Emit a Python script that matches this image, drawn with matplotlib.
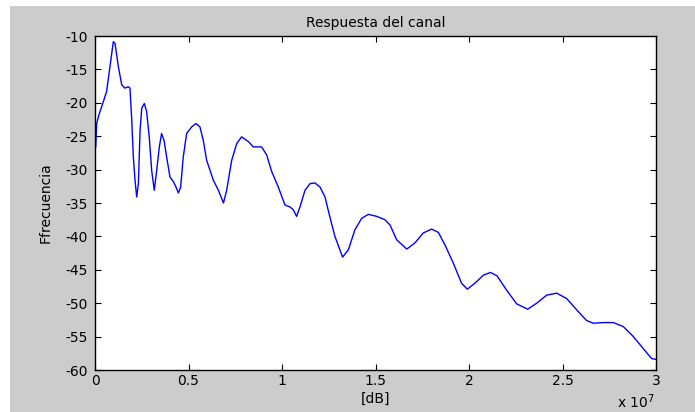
import matplotlib
matplotlib.use("Agg")
import matplotlib.pyplot as plt
from matplotlib.patches import Rectangle
from matplotlib.ticker import FuncFormatter

# channel response, frequency in MHz and level in dB
freq_mhz = [0.04, 0.09, 0.21, 0.45, 0.62, 0.8, 0.98, 1.07, 1.25, 1.43, 1.6, 1.78, 1.87,
            1.96, 2.05, 2.14, 2.23, 2.32, 2.41, 2.5, 2.64, 2.76, 2.9, 3.03, 3.17, 3.3,
            3.44, 3.56, 3.69, 3.83, 4.01, 4.19, 4.33, 4.46, 4.58, 4.72, 4.9, 5.17, 5.4,
            5.61, 5.79, 5.97, 6.33, 6.6, 6.87, 7.04, 7.31, 7.58, 7.84, 8.2, 8.47, 8.91,
            9.18, 9.45, 9.8, 10.16, 10.43, 10.6, 10.78, 10.96, 11.23, 11.5, 11.76, 12.03,
            12.3, 12.57, 12.83, 13.24, 13.55, 13.9, 14.26, 14.62, 15.06, 15.5, 15.78,
            16.13, 16.67, 17.1, 17.55, 18.0, 18.36, 18.72, 19.16, 19.6, 19.91, 20.32,
            20.77, 21.15, 21.5, 22.0, 22.55, 23.14, 23.62, 24.15, 24.69, 25.22, 25.76,
            26.29, 26.65, 27.18, 27.72, 28.25, 28.79, 29.32, 29.77, 30.0]
level_db = [-26.6, -23.1, -21.8, -19.8, -18.3, -14.6, -10.85, -11.1, -14.6, -17.3, -17.8,
            -17.6, -17.8, -22.3, -28.1, -31.6, -34.1, -32.1, -24.1, -20.8, -20.1, -21.3,
            -25.1, -30.1, -33.1, -30.1, -26.6, -24.6, -25.6, -28.1, -31.1, -31.8, -32.6,
            -33.5, -32.6, -28.1, -24.6, -23.6, -23.1, -23.6, -25.6, -28.6, -31.6, -33.1,
            -35.0, -33.1, -28.6, -26.1, -25.1, -25.8, -26.6, -26.6, -27.8, -30.3, -32.6,
            -35.3, -35.6, -36.0, -37.0, -35.6, -33.1, -32.1, -32.0, -32.6, -34.1, -37.2,
            -40.0, -43.1, -42.0, -39.0, -37.3, -36.7, -37.0, -37.5, -38.3, -40.5, -41.9,
            -41.0, -39.5, -38.9, -39.4, -41.3, -44.0, -47.0, -47.9, -47.0, -45.8, -45.4,
            -45.9, -48.0, -50.1, -50.9, -50.0, -48.8, -48.5, -49.3, -51.0, -52.6, -53.0,
            -52.9, -52.9, -53.5, -55.0, -56.8, -58.3, -58.4]

x_ticks = [0, 0.5, 1, 1.5, 2, 2.5, 3]
y_ticks = [-60, -55, -50, -45, -40, -35, -30, -25, -20, -15, -10]

plt.rcParams['font.family'] = ['DejaVu Sans']
plt.rcParams['axes.unicode_minus'] = False
fs = 10

fig = plt.figure(figsize=(6.95, 4.12), dpi=100, facecolor='white')
# grey window area
fig.patches.append(Rectangle((10 / 695, 0), 1, 1 - 6 / 412, transform=fig.transFigure,
                             facecolor='#cccccc', edgecolor='none', zorder=-10))

ax = fig.add_axes([95 / 695, 1 - 370 / 412, 561 / 695, 334 / 412])
ax.set_facecolor('white')
ax.plot([f * 1e6 for f in freq_mhz], level_db, color='#0000ff', linewidth=1.0)

ax.set_xlim(0, 3e7)
ax.set_ylim(-60, -10)
ax.set_xticks([t * 1e7 for t in x_ticks])
ax.xaxis.set_major_formatter(FuncFormatter(lambda v, p: '%g' % (v / 1e7)))
ax.set_yticks(y_ticks)

ax.tick_params(axis='both', direction='in', length=4, width=0.8, labelsize=fs,
               top=True, right=True, colors='black', pad=5)
ax.tick_params(axis='x', pad=3)
for side in ax.spines.values():
    side.set_linewidth(1.0)

ax.set_title("Respuesta del canal", fontsize=fs, pad=6.5)
ax.set_xlabel("[dB]", fontsize=fs)
ax.xaxis.set_label_coords(0.5, -22 / 334)
ax.set_ylabel("Ffrecuencia", fontsize=fs)
ax.yaxis.set_label_coords(-42 / 561, 0.5)
fig.text(617 / 695, 1 - 408 / 412, r"x 10$^{7}$", fontsize=fs, ha='left', va='baseline')

plt.savefig('out.png', dpi=100, facecolor=fig.get_facecolor())
